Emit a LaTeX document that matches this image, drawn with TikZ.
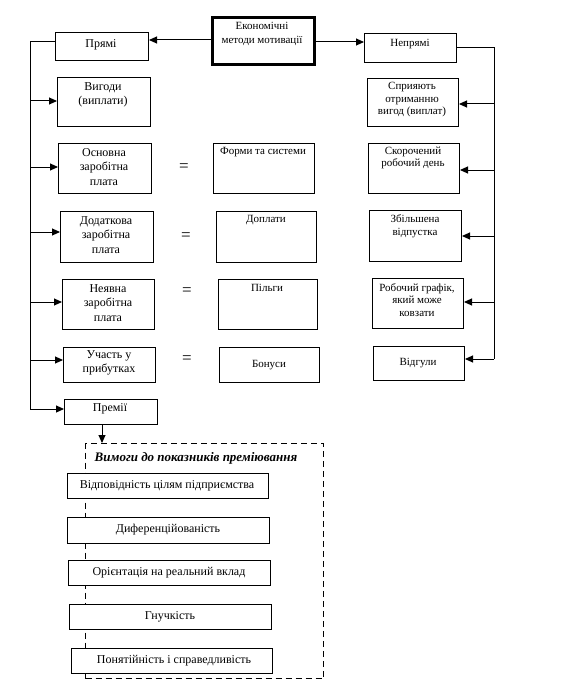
\documentclass[tikz,border=0pt]{standalone}
\usepackage{fontspec}
\setmainfont{Liberation Serif}
\usetikzlibrary{arrows.meta}
\newcommand\mybox[6][]{%
  \node[box,#1,anchor=north west,minimum width={(#4-#2)*1pt},minimum height={(#5-#3)*1pt}] (#6) at (#2,#3) {};}
\begin{document}
\begin{tikzpicture}[x=1pt,y=-1pt,
  box/.style={draw,line width=1pt,inner sep=0pt,fill=white},
  arr/.style={-{Triangle[length=8pt,width=7pt]},line width=1pt},
  ln/.style={line width=1pt},
  tl/.style={font=\fontsize{12}{14.5}\selectfont,align=center,inner sep=0pt},
  tr/.style={font=\fontsize{11}{12.5}\selectfont,align=center,inner sep=0pt},
  tm/.style={font=\fontsize{11}{13}\selectfont,align=center,inner sep=0pt},
  tb/.style={font=\fontsize{12}{13}\selectfont,align=center,inner sep=0pt},
  eqs/.style={font=\fontsize{17}{17}\selectfont,inner sep=0pt}]
\useasboundingbox[fill=white] (0,0) rectangle (562,690);
% top
\mybox[line width=2.6pt]{211}{16}{313}{63}{top}
\node[tm,font=\fontsize{11}{14}\selectfont] (ttop) at (262,34) {Економічні\\методи мотивації};
% left column
\mybox{55}{32}{148}{60}{pryami}
\node[tl] (tpryami) at (101,45) {Прямі};
\mybox{57}{77}{150}{126}{vyhody}
\node[tl] (tvyhody) at (103,95) {Вигоди\\(виплати)};
\mybox{58}{143}{151}{193}{osn}
\node[tl] (tosn) at (104,167) {Основна\\заробітна\\плата};
\mybox{60}{211}{153}{262}{dod}
\node[tl] (tdod) at (106,235) {Додаткова\\заробітна\\плата};
\mybox{62}{279}{154}{329}{neyav}
\node[tl] (tneyav) at (108,303) {Неявна\\заробітна\\плата};
\mybox{63}{347}{155}{382}{uchast}
\node[tl] (tuchast) at (109,363) {Участь у\\прибутках};
\mybox{64}{399}{157}{424}{premii}
\node[tl] (tpremii) at (110,409) {Премії};
% equals
\node[eqs] (e1) at (184,168) {=};
\node[eqs] (e2) at (186,237) {=};
\node[eqs] (e3) at (187,292) {=};
\node[eqs] (e4) at (187,360) {=};
% middle column
\mybox{213}{143}{314}{193}{formy}
\node[tm] (tformy) at (263,152) {Форми та системи};
\mybox{216}{211}{316}{262}{doplaty}
\node[tm] (tdoplaty) at (266,220) {Доплати};
\mybox{218}{279}{317}{329}{pilhy}
\node[tm] (tpilhy) at (267,288) {Пільги};
\mybox{219}{347}{319}{382}{bonusy}
\node[tm] (tbonusy) at (269,365) {Бонуси};
% right column
\mybox{364}{33}{456}{62}{nepr}
\node[tr] (tnepr) at (410,44) {Непрямі};
\mybox{367}{78}{458}{126}{spr}
\node[tr] (tspr) at (412,100) {Сприяють\\отриманню\\вигод (виплат)};
\mybox{368}{143}{459}{193}{skor}
\node[tr] (tskor) at (413,158) {Скорочений\\робочий день};
\mybox{369}{210}{461}{261}{zbil}
\node[tr] (tzbil) at (415,226) {Збільшена\\відпустка};
\mybox{372}{278}{463}{328}{rob}
\node[tr] (trob) at (417,300) {Робочий графік,\\який може\\ковзати};
\mybox{373}{346}{464}{380}{vidh}
\node[tr] (tvidh) at (418,363) {Відгули};
% top arrows
\draw[arr] (top.west |- 0,40) -- (pryami.east |- 0,40);
\draw[arr] (top.east |- 0,42) -- (nepr.west |- 0,42);
% left trunk
\coordinate (L0) at (30,42);
\coordinate (L1) at (30,409);
\draw[ln] (pryami.west |- L0) -- (L0) -- (L1);
\foreach \n/\y in {vyhody/101,osn/167,dod/232,neyav/302,uchast/360,premii/409}
  \draw[arr] (30,\y) -- (\n.west |- 0,\y);
% right trunk
\coordinate (R0) at (494,48);
\coordinate (R1) at (494,359);
\draw[ln] (nepr.east |- R0) -- (R0) -- (R1);
\foreach \n/\y in {spr/104,skor/170,zbil/236,rob/302,vidh/359}
  \draw[arr] (494,\y) -- (\n.east |- 0,\y);
% dashed block
\node[draw,line width=1.1pt,dash pattern=on 6pt off 4pt,inner sep=0pt,anchor=north west,
  minimum width=238pt,minimum height=235pt] (dbox) at (85,443) {};
\draw[arr] (premii.south -| 102,0) -- (dbox.north -| 102,0);
\node[font=\fontsize{13}{14}\selectfont\bfseries\itshape,inner sep=0pt] (head) at (196,458) {Вимоги до показників преміювання};
\mybox{67}{473}{268}{498}{r1}
\node[tb] (tr1) at (167,486) {Відповідність цілям підприємства};
\mybox{67}{517}{269}{543}{r2}
\node[tb] (tr2) at (168,530) {Диференційованість};
\mybox{68}{560}{270}{585}{r3}
\node[tb] (tr3) at (169,573) {Орієнтація на реальний вклад};
\mybox{69}{604}{271}{629}{r4}
\node[tb] (tr4) at (170,617) {Гнучкість};
\mybox{71}{648}{272}{673}{r5}
\node[tb] (tr5) at (174,661) {Понятійність і справедливість};
\end{tikzpicture}
\end{document}
